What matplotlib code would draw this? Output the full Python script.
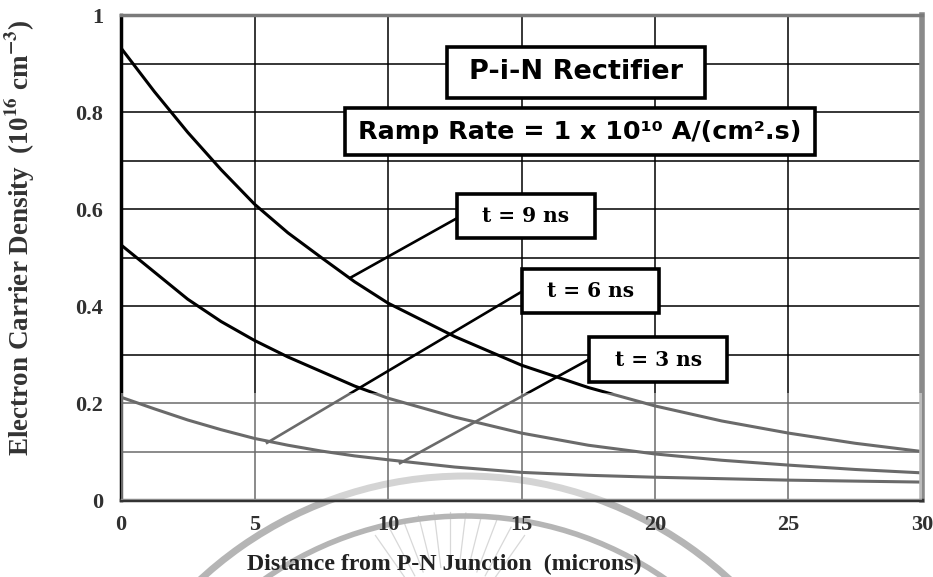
import numpy as np
import matplotlib.pyplot as plt
from matplotlib.patches import Rectangle, Arc

# Distanza dalla giunzione (micron)
x_um = [0, 1.25, 2.5, 3.75, 5, 6.25, 7.5, 8.75, 10, 12.5, 15, 17.5, 20, 22.5, 25, 27.5, 30]

# Densita' elettroni (1e16 cm^-3)
n_9ns = [0.932, 0.842, 0.758, 0.681, 0.610, 0.551, 0.500, 0.450, 0.406,
         0.337, 0.278, 0.232, 0.194, 0.163, 0.138, 0.117, 0.100]
n_6ns = [0.526, 0.470, 0.414, 0.368, 0.329, 0.295, 0.265, 0.235, 0.210,
         0.171, 0.138, 0.113, 0.095, 0.082, 0.072, 0.063, 0.056]
n_3ns = [0.212, 0.188, 0.165, 0.145, 0.127, 0.113, 0.101, 0.091, 0.083,
         0.068, 0.057, 0.051, 0.047, 0.044, 0.041, 0.039, 0.037]

labels = ['t = 9 ns', 't = 6 ns', 't = 3 ns']
x_ticks = [0, 5, 10, 15, 20, 25, 30]
y_ticks = [0, 0.2, 0.4, 0.6, 0.8, 1.0]
y_ticklabels = ['0', '0.2', '0.4', '0.6', '0.8', '1']

plt.rcParams['mathtext.fontset'] = 'stix'
plt.rcParams['mathtext.default'] = 'bf'

fig = plt.figure(figsize=(9.33, 5.77), dpi=100)
ax = fig.add_axes([0.1297, 0.1334, 0.8585, 0.8406])
ax.set_facecolor('none')

# logo in filigrana (sotto a tutto)
for r, lw in [(3.9, 5.0), (3.5, 4.0)]:
    arc = Arc((4.65, -2.89), 2 * r, 2 * r, theta1=20, theta2=160, color='#b5b5b5',
              lw=lw, transform=fig.dpi_scale_trans, zorder=-2)
    fig.patches.append(arc)
for ang in np.linspace(55, 125, 11):
    a = np.deg2rad(ang)
    fig.add_artist(plt.Line2D([4.5 + 0.75 * np.cos(a), 4.5 + 1.3 * np.cos(a)],
                              [-0.65 + 0.75 * np.sin(a), -0.65 + 1.3 * np.sin(a)],
                              color='#d8d8d8', lw=0.9, transform=fig.dpi_scale_trans, zorder=-2))

# curve
for n in [n_9ns, n_6ns, n_3ns]:
    ax.plot(x_um, n, color='black', lw=2.2, zorder=2, solid_joinstyle='round')

# linee verso le etichette
leaders = [((12.58, 0.581), (8.58, 0.458)),
           ((15.02, 0.430), (5.47, 0.118)),
           ((17.53, 0.290), (10.45, 0.076))]
for (x0, y0), (x1, y1) in leaders:
    ax.plot([x0, x1], [y0, y1], color='black', lw=1.9, zorder=2)

# griglia
ax.set_xlim(0, 30)
ax.set_ylim(0, 1)
ax.set_xticks(x_ticks)
ax.set_yticks(y_ticks)
ax.set_yticklabels(y_ticklabels)
ax.set_yticks(np.arange(0.1, 1.0, 0.2), minor=True)
ax.grid(which='both', color='black', lw=1.1, zorder=1)
ax.set_axisbelow(True)
ax.tick_params(which='both', length=0)
ax.tick_params(axis='x', pad=11)
ax.tick_params(axis='y', pad=13)
for lab in ax.get_xticklabels() + ax.get_yticklabels():
    lab.set_fontfamily('Liberation Serif')
    lab.set_fontweight('bold')
    lab.set_fontsize(16)
    lab.set_color('#303030')

ax.spines['left'].set_linewidth(2.5)
ax.spines['left'].set_color('black')
ax.spines['bottom'].set_linewidth(2.5)
ax.spines['bottom'].set_color('#333333')
ax.spines['top'].set_linewidth(2.5)
ax.spines['top'].set_color('#7a7a7a')
ax.spines['right'].set_linewidth(4)
ax.spines['right'].set_color('#8a8a8a')

# parte bassa del foglio scansionato piu' chiara
ax.add_patch(Rectangle((0, 0), 30, 0.22, facecolor='white', alpha=0.42,
                       edgecolor='none', zorder=2.8))

# riquadri
def box(x0, x1, y0, y1, text, **kw):
    ax.add_patch(Rectangle((x0, y0), x1 - x0, y1 - y0, facecolor='white',
                           edgecolor='black', lw=2.6, zorder=4))
    ax.text((x0 + x1) / 2, (y0 + y1) / 2, text, ha='center', va='center',
            zorder=5, **kw)

box(12.21, 21.87, 0.829, 0.934, 'P-i-N Rectifier',
    family='DejaVu Sans', weight='bold', fontsize=19.5)
box(8.39, 25.99, 0.711, 0.808, 'Ramp Rate = 1 x 10¹⁰ A/(cm².s)',
    family='DejaVu Sans', weight='bold', fontsize=18.3)
box(12.58, 17.75, 0.540, 0.631, labels[0], family='DejaVu Serif', weight='bold', fontsize=14.5)
box(15.02, 20.15, 0.386, 0.476, labels[1], family='DejaVu Serif', weight='bold', fontsize=14.5)
box(17.53, 22.70, 0.243, 0.336, labels[2], family='DejaVu Serif', weight='bold', fontsize=14.5)

ax.set_xlabel('Distance from P-N Junction  (microns)', family='Liberation Serif',
              weight='bold', fontsize=17.2, color='#222222')
ax.set_ylabel('Electron Carrier Density  (10$^{16}$ cm$^{-3}$)', family='Liberation Serif',
              weight='bold', fontsize=19.5, color='#333333')
ax.xaxis.set_label_coords(0.403, -0.11)
ax.yaxis.set_label_coords(-0.105, 0.54)

plt.savefig('out.png', dpi=100, facecolor='white')
plt.close()
